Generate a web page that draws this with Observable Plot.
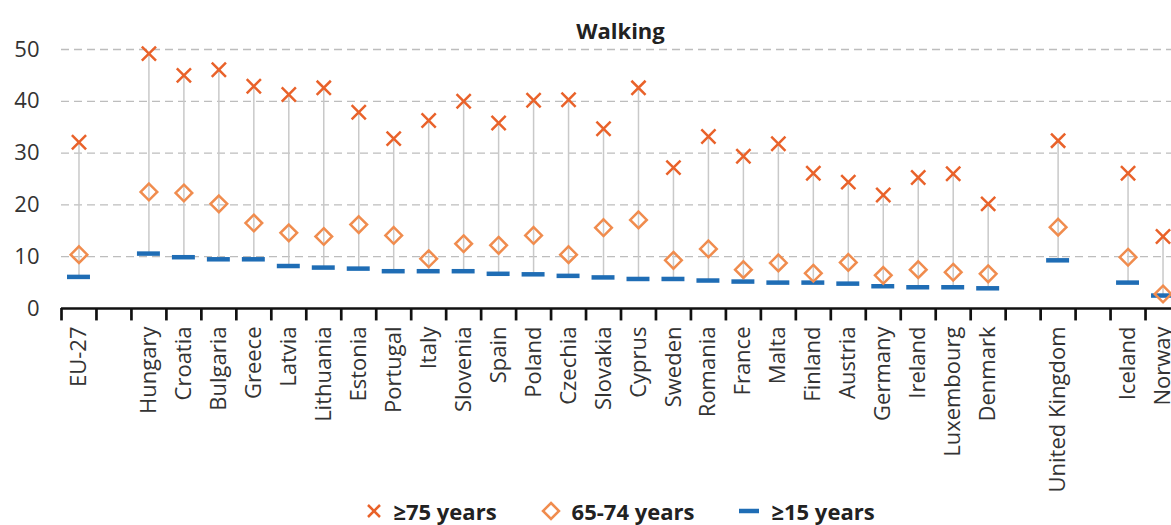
<!DOCTYPE html>
<html><head><meta charset="utf-8">
<script src="https://cdn.jsdelivr.net/npm/d3@7"></script>
<script src="https://cdn.jsdelivr.net/npm/@observablehq/plot@0.6"></script>
<style>
body{margin:0;background:#fff;}
#wrap{position:relative;width:1171px;height:525px;overflow:hidden;font-family:"Open Sans",sans-serif;}
#chart{position:absolute;left:0;top:0;}
#title{position:absolute;left:61px;width:1119px;top:15px;text-align:center;font-weight:bold;font-size:22px;line-height:30px;color:#222;}
#legend{position:absolute;left:61px;width:1119px;top:497px;height:28px;display:flex;justify-content:center;align-items:center;gap:44px;font-weight:bold;font-size:22px;color:#222;}
.item{display:flex;align-items:center;gap:11px;}
.item svg{display:block;}
</style></head>
<body><div id="wrap"><div id="chart"></div><div id="title">Walking</div><div id="legend"></div></div>
<script>
const categories = ["EU-27"," ","Hungary","Croatia","Bulgaria","Greece","Latvia","Lithuania","Estonia","Portugal","Italy","Slovenia","Spain","Poland","Czechia","Slovakia","Cyprus","Sweden","Romania","France","Malta","Finland","Austria","Germany","Ireland","Luxembourg","Denmark","  ","United Kingdom","   ","Iceland","Norway"];
const countries = ["EU-27","Hungary","Croatia","Bulgaria","Greece","Latvia","Lithuania","Estonia","Portugal","Italy","Slovenia","Spain","Poland","Czechia","Slovakia","Cyprus","Sweden","Romania","France","Malta","Finland","Austria","Germany","Ireland","Luxembourg","Denmark","United Kingdom","Iceland","Norway"];
const over75 =    [32.1,49.2,45.0,46.1,42.9,41.3,42.6,37.9,32.8,36.3,40.0,35.8,40.2,40.3,34.7,42.6,27.2,33.2,29.4,31.8,26.1,24.4,21.9,25.3,26.0,20.2,32.4,26.1,13.9];
const age65to74 = [10.4,22.5,22.3,20.2,16.5,14.6,13.9,16.2,14.1,9.6,12.5,12.2,14.1,10.4,15.6,17.1,9.3,11.5,7.5,8.8,6.8,8.9,6.4,7.5,7.0,6.7,15.7,9.9,2.8];
const over15 =    [6.1,10.6,9.9,9.5,9.5,8.2,7.9,7.7,7.2,7.2,7.2,6.7,6.6,6.3,6.0,5.7,5.7,5.4,5.2,5.0,5.0,4.8,4.3,4.1,4.1,3.9,9.3,5.0,2.5];
const yTicks = [0,10,20,30,40,50];
const gridTicks = [10,20,30,40,50];
const seriesLabels = ["≥75 years","65-74 years","≥15 years"];
const colX = "#e9622a", colD = "#f08c4e", colB = "#1f6db5";

const data = countries.map((c,i)=>({country:c, v75:over75[i], v65:age65to74[i], v15:over15[i]}));
const X0 = 61, X1 = 1180;
const bw = (X1 - X0) / categories.length;

const chart = Plot.plot({
  width: 1171, height: 525,
  marginTop: 49, marginBottom: 217, marginLeft: 61, marginRight: 0,
  style: {fontFamily: "'Open Sans', sans-serif", background: "transparent", overflow: "visible"},
  x: {type: "band", domain: categories, range: [X0, X1], padding: 0, axis: null},
  y: {domain: [0, 50], axis: null},
  marks: [
    Plot.gridY(gridTicks, {stroke: "#bdbdbd", strokeOpacity: 1, strokeDasharray: "8,5", strokeWidth: 1.3}),
    Plot.axisY(yTicks, {tickSize: 0, tickPadding: 22, fontSize: 22, fill: "#333", tickFormat: d => d, label: null}),
    Plot.axisX({tickSize: 0, tickRotate: -90, tickPadding: 18, fontSize: 22, fill: "#333", label: null}),
    Plot.ruleX(data, {x: "country", y1: "v15", y2: "v75", stroke: "#c9c9c9", strokeWidth: 1.5}),
    Plot.ruleX(categories, {x: d => d, dx: -bw / 2, y1: d => 0, y2: d => -2.4, stroke: "#111", strokeWidth: 2.7}),
    Plot.ruleY([0], {stroke: "#111", strokeWidth: 2.5}),
    Plot.tickY(data, {x: "country", y: "v15", stroke: colB, strokeWidth: 4.5, insetLeft: 6, insetRight: 6}),
    Plot.dot(data, {x: "country", y: "v65", symbol: "diamond2", r: 7.5, stroke: colD, strokeWidth: 2.5, fill: "none"}),
    Plot.dot(data, {x: "country", y: "v75", symbol: "times", r: 6.5, stroke: colX, strokeWidth: 2.5})
  ]
});
document.getElementById("chart").appendChild(chart);

const symbols = [
  `<svg width="16" height="16"><path d="M2,2L14,14M14,2L2,14" stroke="${colX}" stroke-width="2.5"/></svg>`,
  `<svg width="20" height="20"><path d="M10,2L18,10L10,18L2,10Z" fill="none" stroke="${colD}" stroke-width="2.5"/></svg>`,
  `<svg width="22" height="8"><path d="M1,4L21,4" stroke="${colB}" stroke-width="4.5"/></svg>`
];
const legend = document.getElementById("legend");
seriesLabels.forEach((lab, i) => {
  const it = document.createElement("div");
  it.className = "item";
  it.innerHTML = symbols[i] + `<span>${lab}</span>`;
  legend.appendChild(it);
});
</script>
</body></html>
